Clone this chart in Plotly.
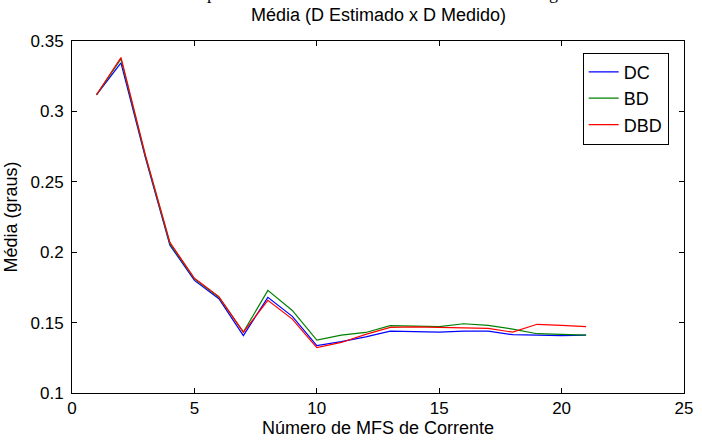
import plotly.graph_objects as go

x_mfs = list(range(1, 22))
dc = [0.3118, 0.3345, 0.2670, 0.2050, 0.1800, 0.1670, 0.1408, 0.1679, 0.1544, 0.1337,
      0.1365, 0.1399, 0.1439, 0.1435, 0.1432, 0.1439, 0.1439, 0.1414, 0.1411, 0.1407, 0.1411]
bd = [0.3118, 0.3373, 0.2680, 0.2060, 0.1810, 0.1680, 0.1432, 0.1729, 0.1586, 0.1375,
      0.1411, 0.1430, 0.1478, 0.1476, 0.1471, 0.1492, 0.1480, 0.1454, 0.1421, 0.1416, 0.1411]
dbd = [0.3118, 0.3383, 0.2690, 0.2070, 0.1815, 0.1685, 0.1432, 0.1658, 0.1525, 0.1322,
       0.1359, 0.1416, 0.1466, 0.1469, 0.1466, 0.1464, 0.1459, 0.1432, 0.1488, 0.1480, 0.1471]
names = ["DC", "BD", "DBD"]
colors = ["#0000ff", "#008000", "#ff0000"]

FONT = "Liberation Sans, Arial, sans-serif"

fig = go.Figure()
for name, ys, c in zip(names, [dc, bd, dbd], colors):
    fig.add_trace(go.Scatter(x=x_mfs, y=ys, mode="lines", name=name,
                             line=dict(color=c, width=1.2)))

axis_common = dict(showgrid=False, zeroline=False, showline=True, linecolor="black",
                   linewidth=1, mirror="ticks", ticks="inside", ticklen=5,
                   tickcolor="black", tickfont=dict(family=FONT, size=17, color="black"))

fig.update_layout(
    width=702, height=442,
    margin=dict(l=72, r=9, t=41, b=42),
    paper_bgcolor="white", plot_bgcolor="white",
    font=dict(family=FONT, color="black"),
    xaxis=dict(range=[0, 25], dtick=5, tick0=0,
               title=dict(text="Número de MFS de Corrente", font=dict(family=FONT, size=18), standoff=2),
               **axis_common),
    yaxis=dict(range=[0.1, 0.35], dtick=0.05, tick0=0.1,
               title=dict(text="Média (graus)", font=dict(family=FONT, size=18), standoff=8),
               ticklabelstandoff=4,
               **axis_common),
    legend=dict(x=0.975, y=0.967, xanchor="right", yanchor="top",
                bordercolor="black", borderwidth=1, bgcolor="white",
                font=dict(family=FONT, size=18, color="black")),
    showlegend=True,
)

fig.add_annotation(text="Média (D Estimado x D Medido)", xref="paper", yref="paper",
                   x=0.5, y=1.0 + 14 / 359, xanchor="center", yanchor="bottom",
                   showarrow=False, font=dict(family=FONT, size=18, color="black"))
fig.add_annotation(text="Desempenho médio dos estimadores com diferentes algoritmos",
                   xref="paper", yref="paper", x=0.511, y=1.0 + 37 / 359,
                   xanchor="center", yanchor="bottom", showarrow=False,
                   font=dict(family="Liberation Serif, Times New Roman, serif", size=18, color="black"))

fig.write_html("out.html")
